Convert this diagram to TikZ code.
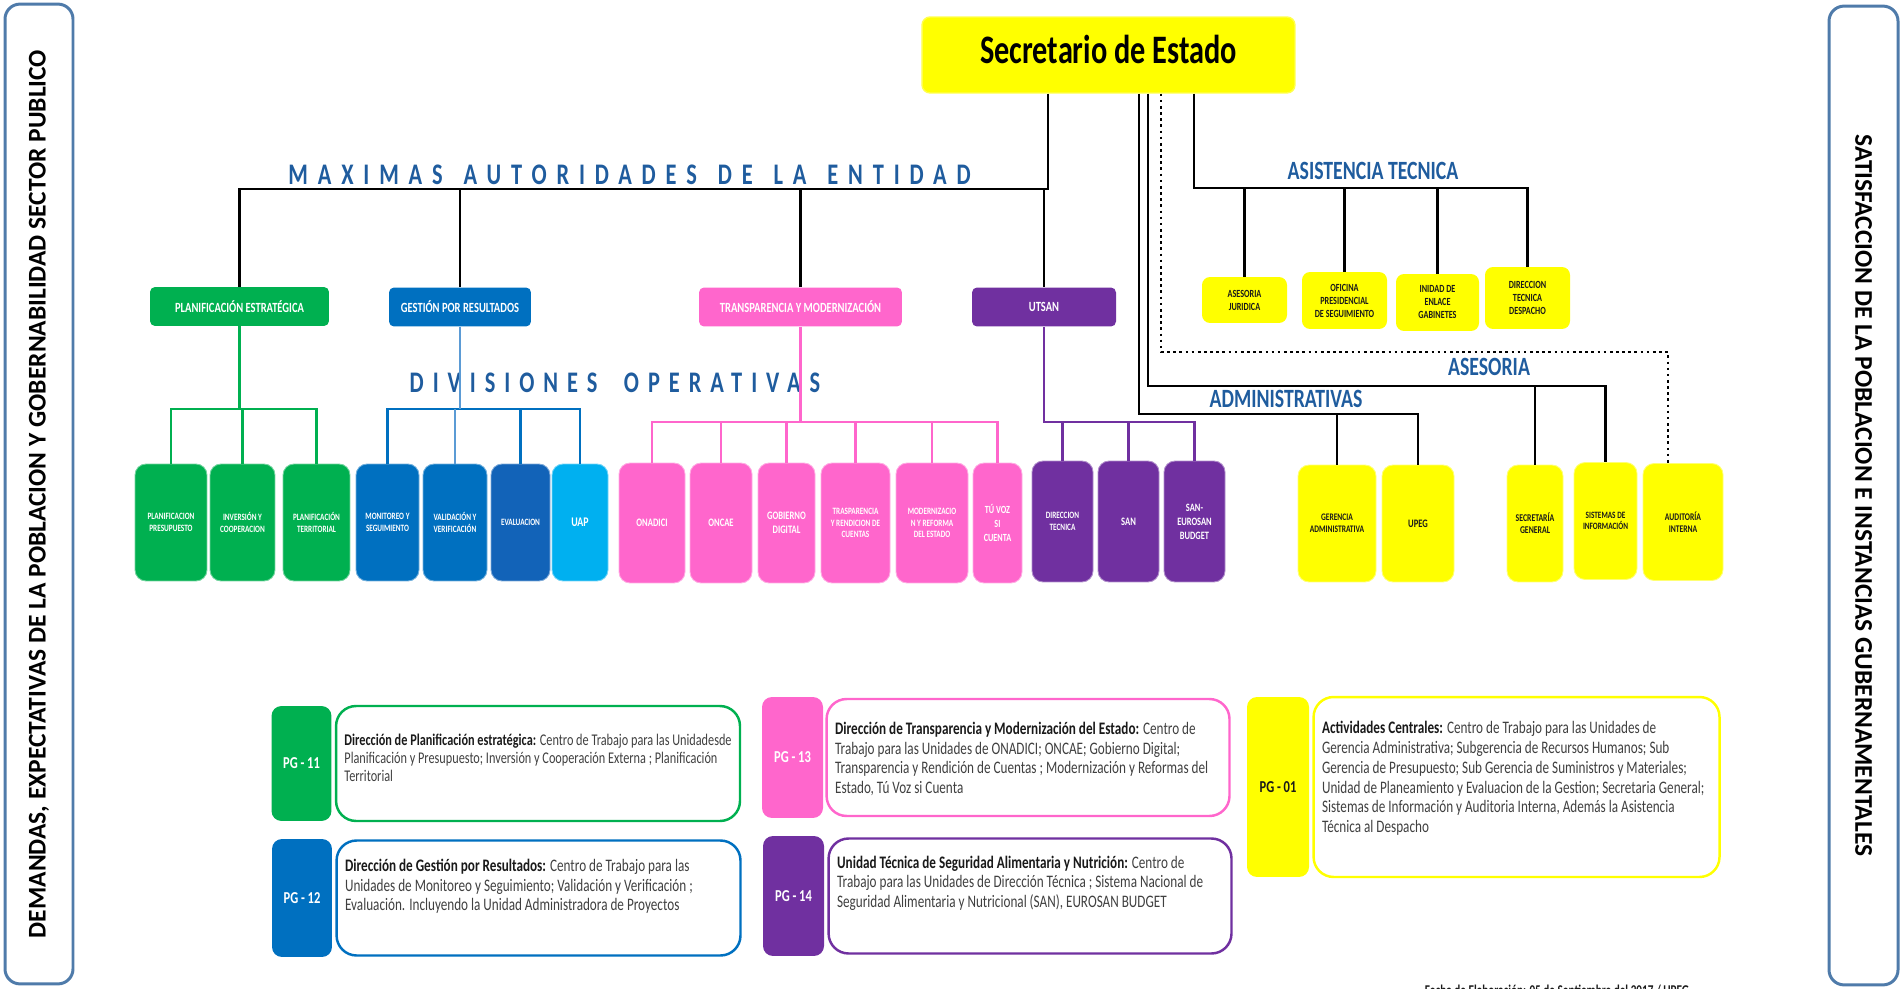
\documentclass[tikz,border=0pt]{standalone}
\usepackage{fontspec}
\setmainfont[FakeStretch=0.75]{Carlito}
\newfontfamily\sidefont{Carlito}
\usepackage{xcolor}
\usepackage{tikz}
\usetikzlibrary{positioning}
\definecolor{orgGreen}{HTML}{00B050}
\definecolor{orgBlue}{HTML}{0070C0}
\definecolor{orgNavy}{HTML}{1263B8}
\definecolor{orgSoft}{HTML}{5B9BD5}
\definecolor{orgSky}{HTML}{00B0F0}
\definecolor{orgPink}{HTML}{FF66CC}
\definecolor{orgPurple}{HTML}{7030A0}
\definecolor{orgYellow}{HTML}{FFFF00}
\definecolor{orgTitle}{HTML}{1F5C9E}
\definecolor{orgFrame}{HTML}{4F7BAA}
\definecolor{orgGray}{HTML}{404040}
\definecolor{orgInk}{HTML}{1A1A1A}
\tikzset{
  org diagram/.style={font=\fontsize{8}{11}\selectfont, text=black, line join=miter},
  org head/.style={fill=orgYellow, draw=orgYellow!70!white, line width=0.8pt,
    rounded corners=0.16cm, minimum width=7.46cm, minimum height=1.52cm,
    font=\bfseries\fontsize{23}{26}\selectfont},
  org division/.style={fill=#1, rounded corners=0.1cm, text=white,
    minimum height=0.78cm, inner sep=1pt, font=\bfseries\fontsize{8}{9}\selectfont},
  org unit/.style={fill=#1, draw=#1!55!white, line width=0.5pt,
    rounded corners=0.22cm, text=white, minimum height=2.34cm, align=center,
    inner sep=1pt, font=\bfseries\fontsize{5.5}{6.6}\selectfont},
  org aid/.style={fill=orgYellow, rounded corners=0.16cm, align=center,
    inner sep=1pt, text=orgInk, font=\bfseries\fontsize{6.2}{7.4}\selectfont},
  org tab/.style={fill=#1, rounded corners=0.2cm, minimum width=1.2cm,
    text=white, font=\bfseries\fontsize{9.5}{11}\selectfont},
  org note/.style={draw=#1, line width=1.4pt, fill=white, rounded corners=0.4cm,
    minimum width=8.08cm, align=left, text=orgGray, inner sep=0.12cm,
    font=\fontsize{10}{11.2}\selectfont},
  org line/.style={draw=black, line width=1.6pt},
  org bus/.style={draw=#1, line width=1.3pt},
  org dotted/.style={draw=black, line width=1.5pt, dotted},
  org caption/.style={text=orgTitle, font=\bfseries\fontsize{15}{18}\selectfont},
  org spaced/.style={text=orgTitle,
    font=\bfseries\fontsize{17}{20}\selectfont\addfontfeature{LetterSpace=33}},
  org side/.style={draw=orgFrame, fill=white, line width=1.7pt, rounded corners=0.3cm,
    font=\sidefont\bfseries\fontsize{14.5}{16}\selectfont}
}

\begin{document}
\begin{tikzpicture}[org diagram, x=0.02cm, y=-0.02cm]
\useasboundingbox (0,0) rectangle (1902,989);

% side frames
\node[org side, rotate=90, minimum width=19.6cm, minimum height=1.36cm] (demand) at (39,494)
  {DEMANDAS, EXPECTATIVAS DE LA POBLACION Y GOBERNABILIDAD SECTOR PUBLICO};
\node[org side, rotate=-90, minimum width=19.58cm, minimum height=1.38cm] (satisf) at (1863.5,495.5)
  {SATISFACCION DE LA POBLACION E INSTANCIAS GUBERNAMENTALES};

% head
\node[org head] (sec) at (1108.5,55) {\raisebox{0.24cm}{Secretario de Estado}};

% directions
\node[org division=orgGreen, minimum width=3.58cm] (pe) at (239.5,306.5) {PLANIFICACIÓN ESTRATÉGICA};
\node[org division=orgBlue, minimum width=2.84cm] (gr) at (460,307) {GESTIÓN POR RESULTADOS};
\node[org division=orgPink, minimum width=4.06cm] (tm) at (800.5,307) {TRANSPARENCIA Y MODERNIZACIÓN};
\node[org division=orgPurple, minimum width=2.88cm] (utsan) at (1044,307) {UTSAN};

% operative units
\node[org unit=orgGreen, minimum width=1.44cm] (pp) at (171,522.5) {PLANIFICACION\\PRESUPUESTO};
\node[org unit=orgGreen, minimum width=1.3cm] (ic) at (242.5,522.5) {INVERSIÓN Y\\COOPERACION};
\node[org unit=orgGreen, minimum width=1.34cm] (pt) at (316.5,522.5) {PLANIFICACIÓN\\TERRITORIAL};
\node[org unit=orgBlue, minimum width=1.26cm] (ms) at (387.5,522.5) {MONITOREO Y\\SEGUIMIENTO};
\node[org unit=orgBlue, minimum width=1.28cm] (vv) at (455,522.5) {VALIDACIÓN Y\\VERIFICACIÓN};
\node[org unit=orgNavy, minimum width=1.18cm] (ev) at (520.5,522.5) {EVALUACION};
\node[org unit=orgSky, minimum width=1.12cm, font=\bfseries\fontsize{7.5}{9}\selectfont] (uap) at (580,522.5) {UAP};
\node[org unit=orgPink, minimum width=1.32cm, minimum height=2.4cm, font=\bfseries\fontsize{6.5}{8}\selectfont] (onadici) at (652,523) {ONADICI};
\node[org unit=orgPink, minimum width=1.24cm, minimum height=2.4cm, font=\bfseries\fontsize{6.5}{8}\selectfont] (oncae) at (721,523) {ONCAE};
\node[org unit=orgPink, minimum width=1.14cm, minimum height=2.4cm, font=\bfseries\fontsize{6.5}{8}\selectfont] (gd) at (786.5,523) {GOBIERNO\\DIGITAL};
\node[org unit=orgPink, minimum width=1.38cm, minimum height=2.4cm] (trc) at (855.5,523) {TRASPARENCIA\\Y RENDICION DE\\CUENTAS};
\node[org unit=orgPink, minimum width=1.44cm, minimum height=2.4cm] (mre) at (932,523) {MODERNIZACIO\\N Y REFORMA\\DEL ESTADO};
\node[org unit=orgPink, minimum width=0.98cm, minimum height=2.4cm, font=\bfseries\fontsize{6.2}{8}\selectfont] (tvc) at (997.5,523) {TÚ VOZ\\SI\\CUENTA};
\node[org unit=orgPurple, minimum width=1.22cm, minimum height=2.42cm] (dt) at (1062.5,521.5) {DIRECCION\\TECNICA};
\node[org unit=orgPurple, minimum width=1.22cm, minimum height=2.42cm, font=\bfseries\fontsize{6.5}{8}\selectfont] (san) at (1128.5,521.5) {SAN};
\node[org unit=orgPurple, minimum width=1.22cm, minimum height=2.42cm, font=\bfseries\fontsize{6.4}{8}\selectfont] (seb) at (1194.5,521.5) {SAN-\\EUROSAN\\BUDGET};
\node[org unit=orgYellow, text=orgInk, minimum width=1.56cm, font=\bfseries\fontsize{5.7}{6.6}\selectfont] (ga) at (1337,523.5) {GERENCIA\\ADMINISTRATIVA};
\node[org unit=orgYellow, text=orgInk, minimum width=1.44cm, font=\bfseries\fontsize{6.5}{8}\selectfont] (upeg) at (1418,523.5) {UPEG};
\node[org unit=orgYellow, text=orgInk, minimum width=1.12cm, font=\bfseries\fontsize{5.9}{6.8}\selectfont] (sg) at (1535,523.5) {SECRETARÍA\\GENERAL};
\node[org unit=orgYellow, text=orgInk, minimum width=1.26cm, font=\bfseries\fontsize{5.5}{6.6}\selectfont] (si) at (1605.5,521) {SISTEMAS DE\\INFORMACIÓN};
\node[org unit=orgYellow, text=orgInk, minimum width=1.6cm, font=\bfseries\fontsize{5.8}{6.8}\selectfont] (ai) at (1683,522) {AUDITORÍA\\INTERNA};

% technical assistance
\node[org aid, minimum width=1.7cm, minimum height=0.92cm] (aj) at (1244.5,300) {ASESORIA\\JURIDICA};
\node[org aid, minimum width=1.7cm, minimum height=1.14cm] (op) at (1344.5,300.5) {OFICINA\\PRESIDENCIAL\\DE SEGUIMIENTO};
\node[org aid, minimum width=1.66cm, minimum height=1.14cm] (ie) at (1437.5,302.5) {INIDAD DE\\ENLACE\\GABINETES};
\node[org aid, minimum width=1.7cm, minimum height=1.24cm] (dtd) at (1527.5,298) {DIRECCION\\TECNICA\\DESPACHO};

% captions
\node[org spaced] (authority) at (629.5,175)
  {MAXIMAS\hspace{0.12cm} AUTORIDADES\hspace{0.12cm} DE\hspace{0.12cm} LA\hspace{0.12cm} ENTIDAD};
\node[org spaced, font=\bfseries\fontsize{17}{20}\selectfont\addfontfeature{LetterSpace=30}] (operative) at (615,383)
  {DIVISIONES\hspace{0.25cm} OPERATIVAS};
\node[org caption] (assist) at (1373,171) {ASISTENCIA TECNICA};
\node[org caption] (advice) at (1489,367) {ASESORIA};
\node[org caption] (admin) at (1286,399) {ADMINISTRATIVAS};

% top level connectors
\coordinate (top bus) at (1048,189);
\draw[org line] (sec.south -| top bus) -- (top bus) -- (top bus -| utsan.north) -- (utsan.north);
\draw[org line] (pe.north) |- (top bus);
\draw[org line] (gr.north) -- (gr.north |- top bus);
\draw[org line] (tm.north) -- (tm.north |- top bus);

\coordinate (green bus) at (239.5,409);
\draw[org bus=orgGreen] (pe.south) -- (green bus);
\draw[org bus=orgGreen] (pp.north) |- (green bus) -| (pt.north);
\draw[org bus=orgGreen] (ic.north) -- (ic.north |- green bus);

\coordinate (blue bus) at (460,409);
\draw[org bus=orgBlue] (ms.north) |- (blue bus) -| (uap.north);
\draw[org bus=orgBlue] (ev.north) -- (ev.north |- blue bus);
\draw[org bus=orgSoft] (gr.south) -- (blue bus);
\draw[org bus=orgSoft] (vv.north) -- (vv.north |- blue bus);

\coordinate (pink bus) at (800.5,422);
\draw[org bus=orgPink] (tm.south) -- (pink bus);
\draw[org bus=orgPink] (onadici.north) |- (pink bus) -| (tvc.north);
\draw[org bus=orgPink] (oncae.north) -- (oncae.north |- pink bus);
\draw[org bus=orgPink] (gd.north) -- (gd.north |- pink bus);
\draw[org bus=orgPink] (trc.north) -- (trc.north |- pink bus);
\draw[org bus=orgPink] (mre.north) -- (mre.north |- pink bus);

\coordinate (purple bus) at (1044,422);
\draw[org bus=orgPurple] (utsan.south) -- (purple bus) -| (seb.north);
\draw[org bus=orgPurple] (dt.north) -- (dt.north |- purple bus);
\draw[org bus=orgPurple] (san.north) -- (san.north |- purple bus);

% support branches
\coordinate (admin bus) at (1139,414);
\draw[org line] (admin bus |- sec.south) -- (admin bus) -| (upeg.north);
\draw[org line] (ga.north) -- (ga.north |- admin bus);
\coordinate (advice bus) at (1148,386);
\draw[org line] (advice bus |- sec.south) -- (advice bus) -| (si.north);
\draw[org line] (sg.north) -- (sg.north |- advice bus);
\coordinate (audit bus) at (1161,352);
\draw[org dotted] (audit bus |- sec.south) -- (audit bus) -| ([xshift=-0.3cm]ai.north);
\coordinate (assist bus) at (1194,188);
\draw[org line] (assist bus |- sec.south) -- (assist bus) -| (dtd.north);
\draw[org line] (aj.north) -- (aj.north |- assist bus);
\draw[org line] (op.north) -- (op.north |- assist bus);
\draw[org line] (ie.north) -- (ie.north |- assist bus);

% programme legend (last empty line keeps the text to the left)
\node[org tab=orgGreen, minimum height=2.3cm] (pg11) at (301.5,763.5) {PG - 11};
\node[org note=orgGreen, minimum height=2.3cm, right=0.06cm of pg11, font=\fontsize{9.3}{10}\selectfont] (pg11 note)
  {\textcolor{orgInk}{\textbf{Dirección de Planificación estratégica:}} Centro de Trabajo para las Unidadesde\\
   Planificación y Presupuesto; Inversión y Cooperación Externa ; Planificación\\
   Territorial\\[-3.4pt]\hspace*{7.74cm}};
\node[org tab=orgBlue, minimum height=2.36cm] (pg12) at (302,898) {PG - 12};
\node[org note=orgBlue, minimum height=2.3cm, right=0.06cm of pg12] (pg12 note)
  {\textcolor{orgInk}{\textbf{Dirección de Gestión por Resultados:}} Centro de Trabajo para las\\
   Unidades de Monitoreo y Seguimiento; Validación y Verificación ;\\
   Evaluación. Incluyendo la Unidad Administradora de Proyectos\\[3.8pt]\hspace*{7.74cm}};
\node[org tab=orgPink, minimum height=2.42cm, minimum width=1.22cm] (pg13) at (792.5,757.5) {PG - 13};
\node[org note=orgPink, minimum height=2.34cm, minimum width=8.06cm, right=0.04cm of pg13] (pg13 note)
  {\textcolor{orgInk}{\textbf{Dirección de Transparencia y Modernización del Estado:}} Centro de\\
   Trabajo para las Unidades de ONADICI; ONCAE; Gobierno Digital;\\
   Transparencia y Rendición de Cuentas ; Modernización y Reformas del\\
   Estado, Tú Voz si Cuenta\\[-11.4pt]\hspace*{7.72cm}};
\node[org tab=orgPurple, minimum height=2.4cm, minimum width=1.22cm] (pg14) at (793.5,896) {PG - 14};
\node[org note=orgPurple, minimum height=2.3cm, minimum width=8.06cm, right=0.06cm of pg14] (pg14 note)
  {\textcolor{orgInk}{\textbf{Unidad Técnica de Seguridad Alimentaria y Nutrición:}} Centro de\\
   Trabajo para las Unidades de Dirección Técnica ; Sistema Nacional de\\
   Seguridad Alimentaria y Nutricional (SAN), EUROSAN BUDGET\\[5pt]\hspace*{7.72cm}};
\node[org tab=orgYellow, text=orgInk, minimum height=3.6cm, minimum width=1.24cm] (pg01) at (1278,787) {PG - 01};
\node[org note=orgYellow, minimum height=3.6cm, minimum width=8.12cm, right=0.06cm of pg01] (pg01 note)
  {\textcolor{orgInk}{\textbf{Actividades Centrales:}} Centro de Trabajo para las Unidades de\\
   Gerencia Administrativa; Subgerencia de Recursos Humanos; Sub\\
   Gerencia de Presupuesto; Sub Gerencia de Suministros y Materiales;\\
   Unidad de Planeamiento y Evaluacion de la Gestion; Secretaria General;\\
   Sistemas de Información y Auditoria Interna, Además la Asistencia\\
   Técnica al Despacho\\[0.2pt]\hspace*{7.78cm}};

\node[anchor=north, inner sep=0pt, text=orgInk, font=\bfseries\fontsize{8.5}{10}\selectfont] (stamp) at (1557,985)
  {Fecha de Elaboración: 05 de Septiembre del 2017 / UPEG};
\end{tikzpicture}
\end{document}
